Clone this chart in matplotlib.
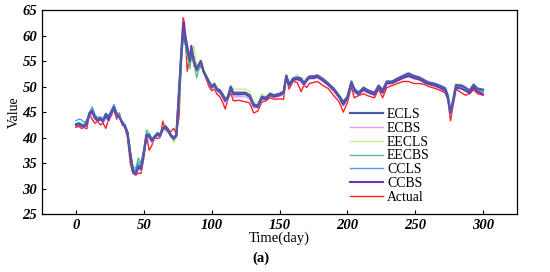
import matplotlib
matplotlib.use("Agg")
import matplotlib.pyplot as plt

days = [0,2,4,6,8,10,12,14,16,18,20,22,24,26,28,30,32,34,36,38,
        40,42,44,46,48,50,52,54,56,58,60,62,64,66,68,70,72,74,76,
        78,79,80,82,84,85,87,89,92,94,96,98,100,
        102,104,106,108,110,112,114,116,
        120,125,128,131,134,137,140,143,146,150,
        153,155,157,160,163,166,168,170,172,175,178,
        182,186,190,194,197,200,203,205,208,212,215,220,223,226,229,
        233,237,241,245,249,253,257,260,264,268,272,274,276,278,280,
        284,287,290,293,296,300]

ecls = [42.6,42.8,42.5,42.3,43.0,44.8,45.3,44.0,43.5,43.8,43.3,44.6,44.0,45.0,46.0,44.5,44.0,43.0,42.3,41.0,
        37.0,33.5,33.0,34.5,34.2,37.0,40.5,40.5,39.5,40.2,40.8,40.5,41.8,42.2,41.5,40.5,40.0,40.5,49.0,
        57.5,60.5,59.5,57.0,55.0,57.5,55.0,53.5,55.0,53.0,52.0,51.0,50.0,
        50.5,49.5,49.3,48.5,47.5,48.0,50.0,48.8,
        48.8,48.8,48.3,46.5,46.3,48.0,47.8,48.6,48.3,48.6,
        49.0,52.2,50.5,51.6,51.8,51.6,50.6,51.5,52.0,52.0,52.2,
        51.5,50.6,49.6,48.2,47.0,48.0,51.0,49.6,48.8,49.8,49.3,48.8,50.2,49.3,51.0,
        51.0,51.6,52.1,52.6,52.1,51.8,51.2,50.8,50.6,50.2,49.7,48.3,45.0,47.5,50.3,
        50.2,49.8,49.2,50.4,49.6,49.4]

ecbs = [42.3,42.5,42.2,42.0,42.6,44.3,44.8,43.5,43.2,43.5,43.0,44.0,43.0,44.5,45.5,44.0,44.2,42.8,42.0,40.8,
        36.5,33.0,32.6,33.8,33.5,36.5,40.0,39.8,39.0,39.8,40.3,40.2,41.5,41.8,41.0,40.2,39.6,40.3,48.5,
        58.0,61.5,60.5,56.5,55.5,57.0,54.5,53.0,54.5,52.8,51.8,50.5,49.6,
        50.0,49.0,48.6,47.8,46.8,47.6,49.5,48.0,
        48.0,48.0,47.6,45.8,45.8,47.5,47.4,48.2,47.9,48.1,
        48.3,51.8,50.0,51.2,51.3,50.8,50.2,51.0,51.5,51.5,51.7,
        51.0,50.2,49.0,47.8,46.3,47.5,50.6,48.8,48.4,49.2,48.8,48.3,49.8,48.7,50.5,
        50.6,51.1,51.6,51.9,51.5,51.3,50.8,50.4,50.2,49.8,49.3,48.0,44.5,47.0,49.8,
        49.7,49.2,48.8,49.9,49.1,48.8]

eecls = [42.5,43.0,42.8,42.5,43.2,44.6,45.0,44.2,43.6,43.9,43.5,44.5,44.2,45.0,45.8,44.8,44.3,43.2,42.5,41.3,
         37.5,34.0,33.5,35.5,34.8,37.5,40.8,40.2,39.8,40.0,40.6,40.5,41.6,42.0,41.8,40.2,39.0,40.0,48.0,
         56.5,60.0,59.5,56.0,54.5,55.5,58.0,54.0,55.2,53.5,52.3,51.2,50.3,
         50.8,49.8,49.5,48.8,47.8,48.2,50.2,49.5,
         49.5,49.5,49.0,47.0,46.8,48.6,48.0,48.8,48.4,48.6,
         48.8,51.8,50.2,51.6,52.4,51.4,50.8,51.4,51.8,51.6,51.8,
         51.2,50.3,49.3,48.0,46.6,47.8,50.6,49.2,48.6,49.5,49.0,48.6,49.9,49.0,50.7,
         50.8,51.3,51.8,52.2,51.8,51.5,51.0,50.6,50.4,50.0,49.5,48.2,45.2,47.5,50.5,
         50.5,49.9,49.3,50.2,49.3,49.0]

eecbs = [42.4,42.7,42.6,42.2,42.9,44.5,45.1,43.8,43.4,43.7,43.2,44.3,43.8,44.9,45.9,44.6,44.1,43.1,42.4,41.2,
         37.3,34.2,34.0,36.0,35.0,37.8,41.5,40.8,39.8,40.3,41.0,40.8,41.8,42.4,41.6,40.5,39.5,40.3,47.0,
         56.0,59.5,59.0,56.5,53.5,56.0,54.5,51.7,54.8,52.8,52.0,51.0,50.0,
         50.4,49.6,49.2,48.4,47.3,47.9,49.8,48.4,
         48.5,48.6,48.0,46.4,46.3,48.2,47.7,48.5,48.2,48.4,
         48.6,51.6,50.0,51.3,51.6,51.2,50.4,51.2,51.7,51.7,51.9,
         51.2,50.4,49.3,48.0,46.2,47.5,50.6,49.0,48.5,49.5,49.0,48.4,49.8,48.9,50.6,
         50.7,51.2,51.7,52.1,51.7,51.4,50.9,50.5,50.3,49.9,49.4,48.0,45.0,47.2,50.0,
         50.0,49.6,49.0,50.0,49.2,49.0]

ccls = [43.3,43.6,43.5,43.0,43.4,45.0,46.0,44.5,43.9,44.1,43.6,44.8,44.3,45.3,46.5,45.0,44.4,43.2,42.6,41.2,
        37.2,34.0,33.5,35.2,34.6,37.3,40.8,40.6,39.7,40.3,40.8,40.6,41.8,42.3,41.7,40.6,40.0,40.5,48.5,
        57.0,60.0,59.8,56.8,54.8,57.2,55.0,53.2,54.9,53.0,52.0,50.8,50.0,
        50.4,49.5,49.2,48.4,47.4,47.9,49.8,48.5,
        48.4,48.5,48.0,46.3,46.2,48.0,47.6,48.4,48.1,48.4,
        48.7,51.9,50.2,51.4,51.6,51.3,50.4,51.3,51.8,51.8,52.0,
        51.3,50.4,49.4,48.0,46.6,47.8,50.8,49.2,48.6,49.6,49.0,48.5,50.0,49.0,50.8,
        50.8,51.4,51.9,52.3,51.9,51.6,51.0,50.6,50.4,50.0,49.5,48.1,45.0,47.4,50.2,
        50.0,49.6,49.0,50.1,49.3,49.1]

ccbs = [42.4,42.6,42.3,42.1,42.7,44.6,45.0,43.8,43.3,43.6,43.1,44.4,43.4,44.8,45.8,44.2,44.0,42.9,42.2,40.8,
        36.6,33.2,32.8,34.2,33.8,36.8,40.3,40.2,39.3,40.0,40.6,40.3,41.6,42.0,41.3,40.3,39.8,40.3,49.5,
        58.5,62.5,61.0,58.0,55.0,58.0,55.0,53.3,55.0,53.0,51.8,50.8,49.8,
        50.3,49.3,49.0,48.2,47.2,47.8,49.8,48.5,
        48.5,48.5,48.0,46.2,46.0,47.7,47.5,48.3,48.0,48.3,
        48.7,52.0,50.2,51.3,51.5,51.2,50.4,51.2,51.7,51.7,51.9,
        51.2,50.3,49.3,47.9,46.5,47.7,50.8,49.2,48.5,49.4,48.9,48.4,49.9,48.8,50.6,
        50.7,51.2,51.7,52.1,51.7,51.4,50.8,50.5,50.2,49.8,49.2,47.8,44.8,47.0,49.8,
        49.6,49.2,48.7,49.9,49.0,48.5]

actual = [42.0,42.2,41.8,42.0,41.7,44.8,43.5,42.8,43.2,42.5,42.8,41.8,43.5,44.2,45.5,43.6,44.8,42.5,42.0,40.0,
          35.0,33.0,32.6,33.0,33.0,36.0,40.5,37.5,38.5,40.0,39.8,40.0,43.2,41.5,41.0,41.2,41.8,40.8,44.0,
          58.0,63.5,62.5,53.0,56.0,57.0,54.0,53.0,54.0,53.0,51.5,50.0,49.2,
          49.5,48.5,48.0,47.0,45.6,47.5,48.8,47.2,
          47.3,47.0,46.8,44.8,45.2,47.0,47.2,47.8,47.5,47.6,
          47.5,51.8,49.5,51.0,50.8,49.0,50.3,49.8,50.6,50.8,51.0,
          50.2,49.6,48.2,47.0,45.0,46.8,50.0,47.8,48.2,48.6,48.2,47.8,49.5,47.8,49.8,
          50.2,50.6,51.0,51.0,50.6,50.6,50.4,50.0,49.7,49.3,48.8,47.5,43.3,46.5,49.5,
          48.8,48.3,48.6,49.4,48.6,48.3]

series = [
    ("ECLS", ecls, "#4b5ba8", 1.6, 9),
    ("ECBS", ecbs, "#e39cf2", 1.0, 4),
    ("EECLS", eecls, "#c6f08a", 1.0, 3),
    ("EECBS", eecbs, "#5cbf8a", 1.0, 5),
    ("CCLS", ccls, "#4f9ef0", 1.0, 6),
    ("CCBS", ccbs, "#6a3ab8", 1.5, 8),
    ("Actual", actual, "#ff2020", 1.0, 2),
]

fig = plt.figure(figsize=(5.5, 2.72), dpi=100)
ax = fig.add_axes([0.0764, 0.213, 0.8636, 0.750])
for name, vals, color, lw, z in series:
    ax.plot(days, vals, color=color, lw=lw, label=name, zorder=z)

ax.set_xlim(-25, 325)
ax.set_ylim(25, 65)
ax.set_xticks([0, 50, 100, 150, 200, 250, 300])
ax.set_yticks([25, 30, 35, 40, 45, 50, 55, 60, 65])
ax.tick_params(direction="in", length=3, width=0.8)
for lab in ax.get_xticklabels() + ax.get_yticklabels():
    lab.set_fontfamily("Liberation Serif")
    lab.set_fontweight("bold")
    lab.set_fontstyle("italic")
    lab.set_fontsize(10.5)
for sp in ax.spines.values():
    sp.set_linewidth(0.9)
ax.set_xlabel("Time(day)", fontfamily="Liberation Serif", fontsize=10.5, labelpad=0)
ax.set_ylabel("Value", fontfamily="Liberation Serif", fontsize=10, labelpad=1)
leg = ax.legend(loc="upper left", bbox_to_anchor=(0.648, 0.52), frameon=False,
                prop={"family": "Liberation Serif", "size": 9.9},
                handlelength=2.4, handletextpad=0.3, labelspacing=0.06,
                borderpad=0, borderaxespad=0)
fig.text(0.475, 0.05, "(a)", fontfamily="Liberation Serif", fontweight="bold",
         fontsize=10.5, ha="center", va="center")
fig.savefig("out.png", dpi=100)
